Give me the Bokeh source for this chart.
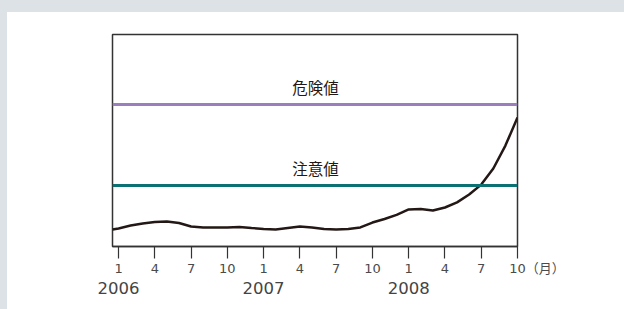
from bokeh.plotting import figure
from bokeh.models import Range1d, FixedTicker, Span, Label, LinearAxis, Spacer
from bokeh.layouts import column, row
from bokeh.embed import file_html
from bokeh.resources import INLINE

# months counted from Jan 2006 = 0
months = [-0.5, 0, 1, 2, 3, 4, 5, 6, 7, 8, 9, 10, 11, 12, 13, 14, 15, 16, 17,
          18, 19, 20, 21, 22, 23, 24, 25, 26, 27, 28, 29, 30, 31, 32, 33]
values = [8.0, 8.5, 9.9, 10.8, 11.6, 11.8, 11.1, 9.4, 9.0, 9.0, 9.0, 9.2, 8.7,
          8.3, 8.0, 8.7, 9.4, 9.0, 8.3, 8.0, 8.3, 9.0, 11.3, 13.0, 14.9, 17.5,
          17.7, 17.0, 18.4, 20.8, 24.5, 29.2, 36.8, 47.6, 60.8]
danger_level = 67.0
caution_level = 28.8
danger_label = "危険値"
caution_label = "注意値"
tick_positions = [0, 3, 6, 9, 12, 15, 18, 21, 24, 27, 30, 33]
tick_labels = ["1", "4", "7", "10", "1", "4", "7", "10", "1", "4", "7", "10"]
year_positions = [0, 12, 24]
year_labels = ["2006", "2007", "2008"]
unit_label = "（月）"

CJK = "Noto Sans CJK JP"
DIGITS = "'DejaVu Sans', 'Noto Sans CJK JP'"
BG = "#dde2e6"

p = figure(width=617, height=297, output_backend="svg", toolbar_location=None,
           x_range=Range1d(-0.5, 33), y_range=Range1d(0, 100),
           min_border_left=105, min_border_right=107, min_border_top=22,
           min_border_bottom=63)
p.background_fill_color = "white"
p.border_fill_color = "white"
p.outline_line_color = "#333333"
p.outline_line_width = 1.5
p.xgrid.visible = False
p.ygrid.visible = False
p.yaxis.visible = False

# month tick labels; the last one carries the unit, padded so "10" stays centred
overrides = {t: l for t, l in zip(tick_positions, tick_labels)}
overrides[tick_positions[-1]] = "\u3000\u3000\u3000" + tick_labels[-1] + unit_label

ax = p.xaxis[0]
ax.ticker = FixedTicker(ticks=tick_positions)
ax.major_label_overrides = overrides
ax.major_tick_in = 0
ax.major_tick_out = 12
ax.major_tick_line_color = "#333333"
ax.major_tick_line_width = 1.2
ax.minor_tick_line_color = None
ax.axis_line_color = "#333333"
ax.axis_line_width = 1.5
ax.major_label_standoff = 2
ax.major_label_text_font = DIGITS
ax.major_label_text_font_size = "13px"
ax.major_label_text_color = "#4a4a4a"

# year labels as a second axis below
yax = LinearAxis(ticker=FixedTicker(ticks=year_positions),
                 major_label_overrides={t: l for t, l in zip(year_positions, year_labels)},
                 axis_line_color=None, major_tick_line_color=None,
                 minor_tick_line_color=None, major_tick_in=0, major_tick_out=0,
                 major_label_standoff=3, major_label_text_font=DIGITS,
                 major_label_text_font_size="16.5px", major_label_text_color="#444444")
p.add_layout(yax, "below")

p.add_layout(Span(location=danger_level, dimension="width",
                  line_color="#9b7fbc", line_width=3))
p.add_layout(Span(location=caution_level, dimension="width",
                  line_color="#0b7172", line_width=3))

p.line(months, values, line_color="#231815", line_width=2.5)

p.add_layout(Label(x=16.3, y=danger_level, text=danger_label, text_align="center",
                   text_baseline="bottom", y_offset=6, text_font=CJK,
                   text_font_size="15.5px", text_color="#231815"))
p.add_layout(Label(x=16.3, y=caution_level, text=caution_label, text_align="center",
                   text_baseline="bottom", y_offset=6, text_font=CJK,
                   text_font_size="15.5px", text_color="#231815"))

top_strip = Spacer(width=624, height=12, styles={"background-color": BG})
left_strip = Spacer(width=7, height=297, styles={"background-color": BG})
layout = column(top_strip, row(left_strip, p, spacing=0), spacing=0)

open("out.html", "w").write(file_html(layout, INLINE))
